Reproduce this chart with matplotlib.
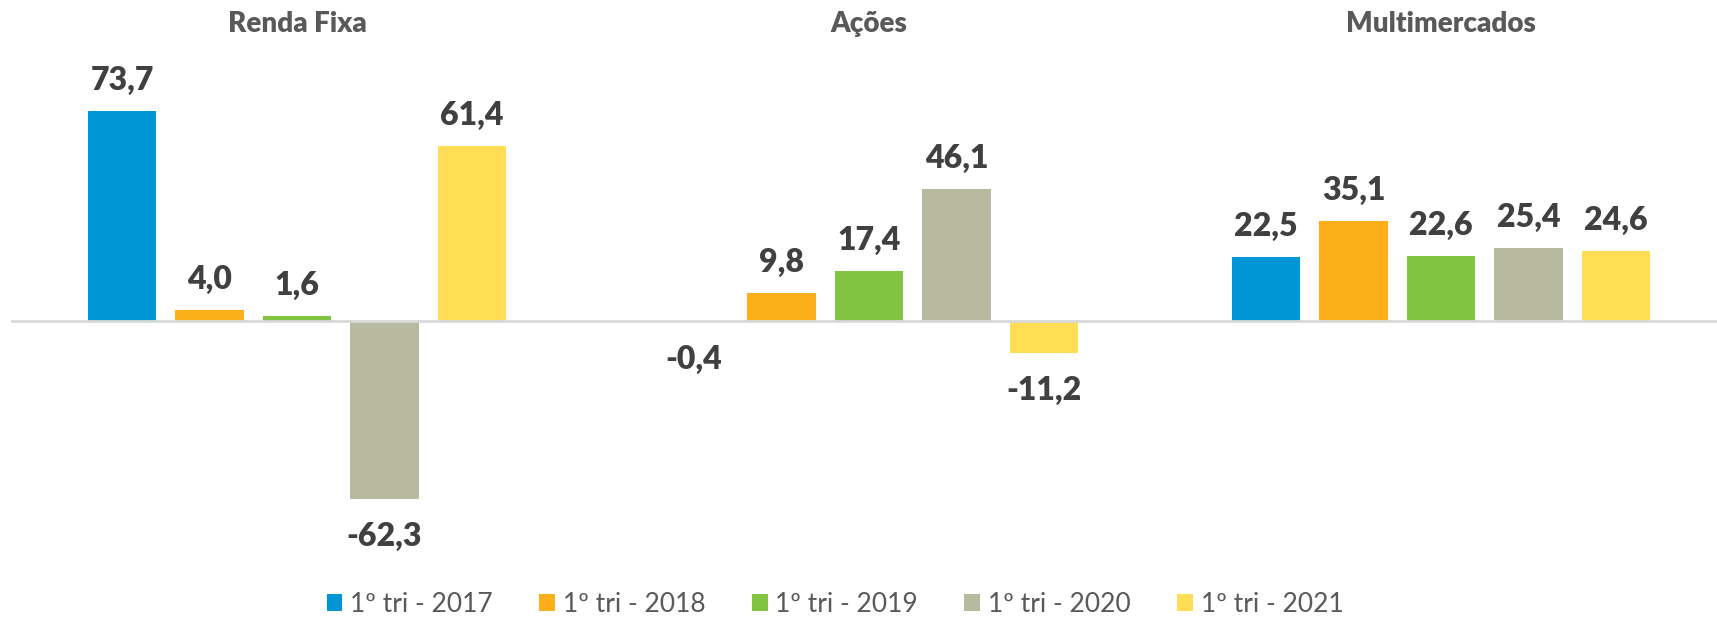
import matplotlib
matplotlib.use("Agg")
import matplotlib.pyplot as plt
import matplotlib.transforms as mtransforms
import numpy as np

# data
categories = ["Renda Fixa", "Ações", "Multimercados"]
series = ["1º tri - 2017", "1º tri - 2018", "1º tri - 2019", "1º tri - 2020", "1º tri - 2021"]
values = {
    "1º tri - 2017": [73.7, -0.4, 22.5],
    "1º tri - 2018": [4.0, 9.8, 35.1],
    "1º tri - 2019": [1.6, 17.4, 22.6],
    "1º tri - 2020": [-62.3, 46.1, 25.4],
    "1º tri - 2021": [61.4, -11.2, 24.6],
}
colors = ["#0096D6", "#FDAF1B", "#82C341", "#B7BA9F", "#FFDD55"]

plt.rcParams['font.family'] = ['Lato', 'DejaVu Sans']

W, H = 1717, 621
fig = plt.figure(figsize=(W / 100, H / 100), dpi=100)
# axes placed in pixels: left 11, right 1717, top 40, bottom 530
ax = fig.add_axes([11 / W, 1 - 530 / H, (W - 11) / W, (530 - 40) / H])

x = np.arange(len(categories))
slot = 0.153
bw = 0.12
for i, (name, c) in enumerate(zip(series, colors)):
    vals = values[name]
    pos = x + (i - 2) * slot
    ax.bar(pos, vals, width=bw, color=c, label=name, zorder=2)
    for xp, v in zip(pos, vals):
        off = 22 if v >= 0 else -27
        ax.annotate(f"{v:.1f}".replace(".", ","), (xp, v), xytext=(0, off),
                    textcoords="offset points", ha="center", va="center",
                    fontsize=23, fontweight="heavy", color="#404040")

ax.axhline(0, color="#d9d9d9", lw=2, zorder=3)
ax.set_xlim(-0.5, -0.5 + (W - 11) / 572)
ax.set_ylim(-(530 - 321) / 2.855, (321 - 40) / 2.855)
ax.axis("off")

trans = mtransforms.blended_transform_factory(ax.transData, fig.transFigure)
for xi, cat in zip(x, categories):
    ax.text(xi, 1 - 24 / H, cat, transform=trans, ha="center", va="center",
            fontsize=20, fontweight="heavy", color="#595959")

fig.legend(loc="center", bbox_to_anchor=(835 / W, 1 - 604 / H), ncol=5, frameon=False,
           fontsize=19, handlelength=0.6, handleheight=0.6, handletextpad=0.3,
           columnspacing=1.75, labelcolor="#595959")

fig.savefig("out.png", dpi=100)
